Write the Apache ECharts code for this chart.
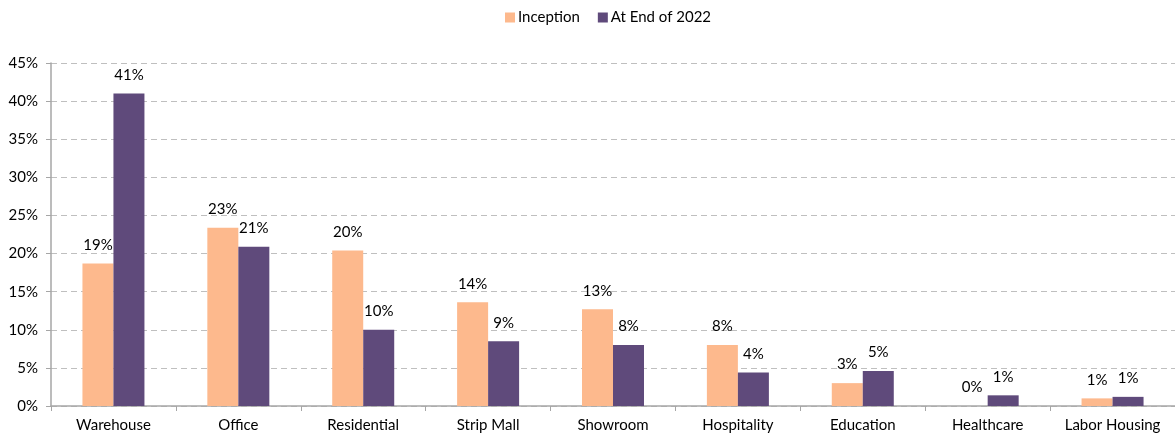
<!DOCTYPE html>
<html>
  <head>
    <meta charset="UTF-8">
    <title>Portfolio mix</title>
    <script src="https://cdn.jsdelivr.net/npm/echarts@6/dist/echarts.min.js"></script>
    <style>
    * {
      margin: 0;
      padding: 0;
    }
    </style>
  </head>
  <body>
    <div id="main" style="width: 1175px;height: 437px"></div>
    <script>
var categories = ['Warehouse', 'Office', 'Residential', 'Strip Mall', 'Showroom', 'Hospitality', 'Education', 'Healthcare', 'Labor Housing']
var inception = [18.7, 23.4, 20.4, 13.6, 12.7, 8.0, 3.0, 0, 1.0]
var endOf2022 = [41.0, 20.9, 10.0, 8.5, 8.0, 4.4, 4.6, 1.4, 1.2]
var seriesNames = ['Inception', 'At End of 2022']

var font = 'Lato, "Open Sans", sans-serif'
var chart = echarts.init(document.getElementById('main'))

var label = {
  show: true,
  position: 'top',
  distance: 11,
  color: '#000',
  fontSize: 15,
  fontFamily: font,
  formatter: function (p) { return Math.round(p.value) + '%' }
}

chart.setOption({
  animation: false,
  backgroundColor: '#fff',
  legend: {
    top: 5,
    left: 500,
    itemWidth: 10,
    itemHeight: 10,
    itemGap: 18,
    icon: 'rect',
    textStyle: { fontFamily: font, fontSize: 15, color: '#000', padding: [0, 0, 0, -2] },
    data: seriesNames
  },
  grid: { left: 51, right: 0, top: 63, bottom: 31 },
  xAxis: {
    type: 'category',
    data: categories,
    axisLine: { lineStyle: { color: '#a6a6a6', width: 1.5 } },
    axisTick: { show: true, length: 5, lineStyle: { color: '#a6a6a6' } },
    axisLabel: { color: '#000', fontSize: 15, fontFamily: font, margin: 12 }
  },
  yAxis: {
    type: 'value',
    min: 0,
    max: 45,
    interval: 5,
    axisLine: { show: true, lineStyle: { color: '#a6a6a6', width: 1.5 } },
    axisTick: { show: true, length: 5, lineStyle: { color: '#a6a6a6' } },
    axisLabel: { color: '#000', fontSize: 15, fontFamily: font, margin: 13, formatter: '{value}%' },
    splitLine: { lineStyle: { color: '#bfbfbf', type: [6, 4] } }
  },
  series: [
    {
      name: seriesNames[0],
      type: 'bar',
      data: inception,
      barWidth: 31,
      barGap: '0%',
      itemStyle: { color: '#fdb98d' },
      label: label
    },
    {
      name: seriesNames[1],
      type: 'bar',
      data: endOf2022,
      barWidth: 31,
      barGap: '0%',
      itemStyle: { color: '#5f4a7b' },
      label: label
    }
  ]
})
    </script>
  </body>
</html>
